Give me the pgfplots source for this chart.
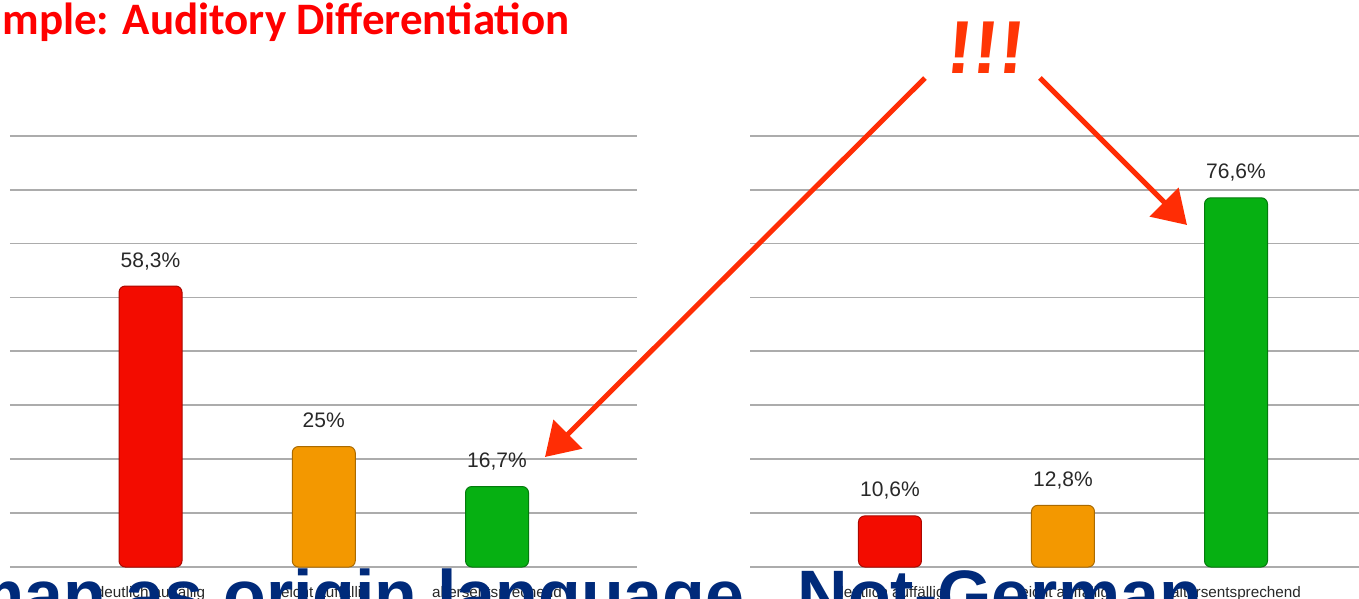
\documentclass[border=0pt]{standalone}
\usepackage{fontspec}
\setmainfont{Liberation Sans}
\newfontfamily\carlito{Carlito}
\usepackage{pgfplots}
\pgfplotsset{compat=1.18}
\usetikzlibrary{arrows.meta}

\definecolor{barred}{RGB}{243,12,0}
\definecolor{barorange}{RGB}{243,152,0}
\definecolor{bargreen}{RGB}{6,176,18}
\definecolor{gridgray}{RGB}{172,172,172}
\definecolor{labelgray}{RGB}{40,40,40}
\definecolor{titlered}{RGB}{255,0,0}
\definecolor{slideblue}{RGB}{0,42,122}
\definecolor{inkred}{RGB}{255,45,5}

% one bar panel: 1px of the slide = 0.4pt
\pgfplotsset{
  panel/.style={
    scale only axis, anchor=south west,
    height=172.52pt,
    ymin=0, ymax=89.48,
    ytick={0,11.185,22.37,33.555,44.74,55.925,67.11,78.295,89.48},
    yticklabels={},
    ymajorgrids,
    major grid style={gridgray, line width=0.7pt},
    axis line style={draw=none},
    major tick style={draw=none},
    xtick={0,1,2},
    xticklabels={deutlich auffällig, leicht auffällig, altersentsprechend},
    xticklabel style={font=\fontsize{6.1pt}{7pt}\selectfont, text=labelgray, anchor=base, yshift=-8pt},
    ybar, bar width=25.2pt, bar shift=0pt,
    /pgf/number format/assume math mode=true,
    nodes near coords={\pgfmathprintnumber[use comma, precision=1]{\pgfplotspointmeta}\%},
    every node near coord/.append style={font=\fontsize{8.4pt}{10pt}\selectfont, text=labelgray, anchor=base, yshift=7.6pt},
    clip=false,
  },
  bar/.style={fill=#1, draw=#1!70!black, line width=0.4pt, rounded corners=2.5pt},
}

\begin{document}
\begin{tikzpicture}
\useasboundingbox (0,0) rectangle (543.6pt,239.2pt);
\begin{scope}
\clip (0,0) rectangle (543.6pt,239.2pt);

% German as origin language
\begin{axis}[panel, at={(4pt,12.4pt)}, width=250.8pt, xmin=-0.811, xmax=2.808]
  \addplot[bar=barred] coordinates {(0,58.3)};
  \addplot[bar=barorange] coordinates {(1,25)};
  \addplot[bar=bargreen] coordinates {(2,16.7)};
\end{axis}

% Not-German
\begin{axis}[panel, at={(300pt,12.4pt)}, width=243.6pt, xmin=-0.809, xmax=2.711]
  \addplot[bar=barred] coordinates {(0,10.6)};
  \addplot[bar=barorange] coordinates {(1,12.8)};
  \addplot[bar=bargreen] coordinates {(2,76.6)};
\end{axis}

% slide annotations, in slide pixels
\begin{scope}[x=0.4pt, y=-0.4pt, yshift=239.2pt]
  \node[anchor=base east, inner sep=0, text=titlered,
        font=\carlito\bfseries\fontsize{18pt}{20pt}\selectfont] at (570,34)
        {Example: Auditory Differentiation};

  \draw[inkred, line width=2pt, -{Triangle[length=13pt, width=16pt]}] (925,78) -- (545,457);
  \draw[inkred, line width=2pt, -{Triangle[length=13pt, width=16pt]}] (1040,78) -- (1187,225);
  \foreach \xx in {958,984,1010}
    \node[anchor=base, inner sep=0, text=inkred!90!orange, xslant=0.1,
          font=\bfseries\fontsize{30pt}{32pt}\selectfont] at (\xx,73) {!};

  \node[anchor=base east, inner sep=0, text=slideblue,
        font=\bfseries\fontsize{28pt}{30pt}\selectfont] at (745,620)
        {German as origin language};
  \node[anchor=base west, inner sep=0, text=slideblue,
        font=\bfseries\fontsize{28pt}{30pt}\selectfont] at (797,620)
        {Not-German};
\end{scope}
\end{scope}
\end{tikzpicture}
\end{document}
